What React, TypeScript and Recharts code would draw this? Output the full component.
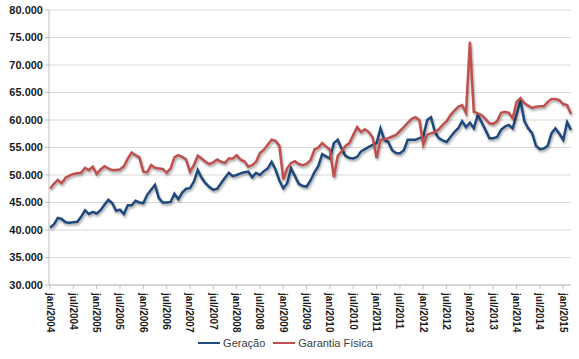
import React from 'react';
import { LineChart, Line, XAxis, YAxis, CartesianGrid, Legend } from 'recharts';

// monthly values in thousands (MWmed), jan/2004 .. mar/2015
const monthNames = ['jan', 'fev', 'mar', 'abr', 'mai', 'jun', 'jul', 'ago', 'set', 'out', 'nov', 'dez'];
const years = [2004, 2005, 2006, 2007, 2008, 2009, 2010, 2011, 2012, 2013, 2014, 2015];

const geracao = [
  40.4, 41.0, 42.2, 42.0, 41.4, 41.3, 41.4, 41.5, 42.4, 43.6, 42.9, 43.3,
  43.0, 43.6, 44.6, 45.5, 44.9, 43.5, 43.7, 42.9, 44.5, 44.5, 45.3, 45.0,
  44.9, 46.4, 47.3, 48.2, 45.8, 45.0, 45.0, 45.1, 46.6, 45.6, 46.8, 47.5,
  47.6, 48.8, 50.9, 49.5, 48.5, 47.8, 47.3, 47.5, 48.5, 49.5, 50.4, 49.8,
  50.0, 50.3, 50.5, 50.6, 49.6, 50.4, 50.0, 50.7, 51.2, 52.4, 51.0, 49.0,
  47.6, 48.5, 51.2, 49.8, 48.4, 48.0, 47.9, 49.0, 50.5, 51.6, 53.8, 53.4,
  53.0, 55.8, 56.4, 54.8, 53.5, 53.1, 53.0, 53.3, 54.3, 54.7, 55.1, 55.5,
  55.8, 58.5, 56.4, 56.0, 54.5, 54.0, 53.9, 54.5, 56.4, 56.4, 56.4, 56.7,
  56.9, 60.0, 60.5, 57.8, 56.7, 56.3, 56.0, 56.9, 57.8, 58.5, 59.8, 58.7,
  59.5, 58.5, 60.9, 59.6, 58.2, 56.7, 56.7, 56.9, 58.2, 58.8, 59.1, 58.5,
  61.0, 63.6, 59.8, 58.5, 57.6, 55.3, 54.7, 54.8, 55.3, 57.6, 58.5, 57.5,
  56.4, 59.6, 58.2,
];

const garantiaFisica = [
  47.5, 48.4, 49.1, 48.5, 49.5, 49.9, 50.2, 50.3, 50.4, 51.3, 50.9, 51.5,
  50.2, 51.0, 51.6, 51.2, 50.9, 50.9, 51.0, 51.6, 53.0, 54.1, 53.6, 53.2,
  50.6, 50.5, 51.8, 51.3, 51.2, 51.1, 50.4, 51.2, 53.2, 53.6, 53.3, 52.8,
  50.6, 51.8, 53.5, 53.0, 52.4, 52.0, 52.3, 52.8, 52.4, 52.2, 53.0, 53.0,
  53.6, 52.8, 52.5, 51.5, 51.8, 52.4, 54.0, 54.6, 55.5, 56.4, 56.2, 55.3,
  49.2, 51.2, 52.2, 52.5, 52.0, 51.8, 52.0, 52.7, 54.6, 55.0, 55.8, 55.2,
  54.6, 49.6, 53.5, 54.3, 55.3, 55.8, 57.3, 58.7, 57.8, 58.3, 57.8, 56.8,
  53.1, 56.4, 56.5, 56.7, 57.0, 57.3, 58.0, 58.7, 59.5, 60.2, 60.5, 60.0,
  55.5, 57.3, 57.6, 57.8, 58.3, 59.1, 59.8, 60.9, 61.7, 62.4, 62.7, 61.3,
  74.2, 61.5, 61.2, 60.9, 60.2, 59.4, 59.3, 59.8, 61.3, 61.5, 61.3, 60.3,
  63.3, 64.0, 63.1, 62.6, 62.2, 62.4, 62.5, 62.5, 63.3, 63.8, 63.8, 63.6,
  62.9, 62.7, 61.1,
];

const yTicks = [30000, 35000, 40000, 45000, 50000, 55000, 60000, 65000, 70000, 75000, 80000];

const series = [
  { key: 'geracao', name: 'Geração', color: '#1f497d' },
  { key: 'garantia', name: 'Garantia Física', color: '#c0504d' },
];

const data = geracao.map((g, i) => ({
  mes: `${monthNames[i % 12]}/${years[Math.floor(i / 12)]}`,
  geracao: g * 1000,
  garantia: garantiaFisica[i] * 1000,
}));

const fmtThousands = (v: number) => {
  const s = String(Math.round(v));
  return s.replace(/\B(?=(\d{3})+(?!\d))/g, '.');
};

const font = '"Liberation Sans", Arial, sans-serif';

const XTick = (props: any) => {
  const { x, y, payload } = props;
  return (
    <g transform={`translate(${x},${y})`}>
      <text
        x={2}
        y={0}
        dy="0.35em"
        transform="rotate(90)"
        textAnchor="start"
        fontSize={10}
        fontWeight="bold"
        fontFamily={font}
        fill="#1a1a1a"
      >
        {payload.value}
      </text>
    </g>
  );
};

// legend keeps the series order (recharts sorts it by name otherwise)
const LegendBox = () => (
  <div style={{ display: 'flex', justifyContent: 'center', gap: 8, fontFamily: font, fontSize: 11, color: '#404040' }}>
    {series.map((s) => (
      <div key={s.key} style={{ display: 'flex', alignItems: 'center', gap: 3 }}>
        <span style={{ display: 'inline-block', width: 22, height: 2.5, background: s.color }} />
        <span>{s.name}</span>
      </div>
    ))}
  </div>
);

export default function App() {
  return (
    <div style={{ position: 'absolute', left: 0, top: 0, width: 579, height: 359, background: '#fff' }}>
      <style>{`.recharts-line-curve { filter: drop-shadow(1px 2px 1.2px rgba(0,0,0,0.35)); }`}</style>
      <LineChart
        width={579}
        height={359}
        data={data}
        margin={{ top: 10, right: 8, left: 0, bottom: 0 }}
      >
        <CartesianGrid vertical={false} stroke="#d9d9d9" strokeWidth={1.2} />
        <XAxis
          dataKey="mes"
          interval={5}
          height={52}
          tick={<XTick />}
          tickSize={4}
          tickLine={{ stroke: '#bfbfbf' }}
          axisLine={{ stroke: '#bfbfbf' }}
          padding={{ left: 1, right: 0 }}
        />
        <YAxis
          width={49}
          domain={[30000, 80000]}
          ticks={yTicks}
          tickFormatter={fmtThousands}
          tick={{ fontSize: 11, fontWeight: 'bold', fontFamily: font, fill: '#1a1a1a' }}
          tickSize={4}
          tickLine={{ stroke: '#bfbfbf' }}
          axisLine={{ stroke: '#bfbfbf' }}
          allowDataOverflow
        />
        {series.map((s) => (
          <Line
            key={s.key}
            dataKey={s.key}
            name={s.name}
            stroke={s.color}
            strokeWidth={2.5}
            dot={false}
            isAnimationActive={false}
          />
        ))}
        <Legend verticalAlign="bottom" height={22} content={<LegendBox />} />
      </LineChart>
    </div>
  );
}
